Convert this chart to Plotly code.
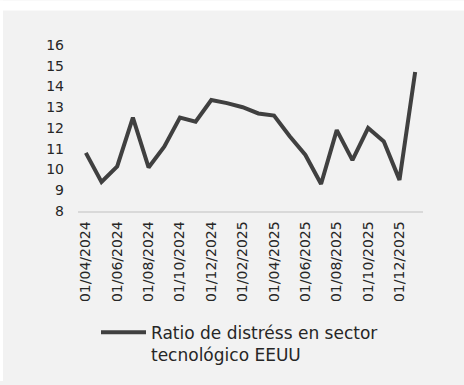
import plotly.graph_objects as go

# Monthly distress ratio, tech sector (US)
fechas = [
    "01/04/2024", "01/05/2024", "01/06/2024", "01/07/2024", "01/08/2024", "01/09/2024",
    "01/10/2024", "01/11/2024", "01/12/2024", "01/01/2025", "01/02/2025", "01/03/2025",
    "01/04/2025", "01/05/2025", "01/06/2025", "01/07/2025", "01/08/2025", "01/09/2025",
    "01/10/2025", "01/11/2025", "01/12/2025", "01/01/2026",
]
ratio = [
    10.8, 9.4, 10.15, 12.5, 10.1, 11.1,
    12.5, 12.3, 13.35, 13.2, 13.0, 12.7,
    12.6, 11.6, 10.7, 9.3, 11.9, 10.45,
    12.0, 11.35, 9.5, 14.7,
]
etiquetas_x = fechas[::2][:11]
ticks_y = [8, 9, 10, 11, 12, 13, 14, 15, 16]

W, H = 464, 385
ML, MR, MT, MB = 78, 41, 45, 172
pw, ph = W - ML - MR, H - MT - MB

def px_x(p):
    return (p - ML) / pw

def px_y(p):
    return (H - MB - p) / ph

fig = go.Figure()
fig.add_trace(go.Scatter(
    x=fechas, y=ratio, mode="lines",
    name="Ratio de distréss en sector<br>tecnológico EEUU",
    line=dict(color="#404040", width=4),
))

panel = "#f2f2f2"
fig.update_layout(
    width=W, height=H,
    margin=dict(l=ML, r=MR, t=MT, b=MB),
    paper_bgcolor=panel, plot_bgcolor=panel,
    font=dict(family="DejaVu Sans, Open Sans, sans-serif", size=14, color="#262626"),
    showlegend=True,
    legend=dict(
        x=px_x(96), y=px_y(318), xanchor="left", yanchor="top",
        bgcolor="rgba(0,0,0,0)", valign="top", itemwidth=45,
        font=dict(size=17, color="#262626"),
    ),
    xaxis=dict(
        type="category", tickmode="array", tickvals=etiquetas_x, ticktext=etiquetas_x,
        range=[-0.5, len(fechas) - 0.5],
        tickangle=-90, showgrid=False, showline=True, linecolor="#d9d9d9", linewidth=1.5,
        ticks="", zeroline=False, ticklabelstandoff=3,
    ),
    yaxis=dict(
        range=[8, 16], tickvals=ticks_y, showgrid=False, zeroline=False,
        showline=False, ticks="", ticklabelstandoff=13,
    ),
    shapes=[
        dict(type="rect", xref="paper", yref="paper",
             x0=px_x(0), x1=px_x(W), y0=px_y(10), y1=px_y(0),
             fillcolor="white", line=dict(width=0), layer="below"),
        dict(type="rect", xref="paper", yref="paper",
             x0=px_x(0), x1=px_x(3), y0=px_y(H), y1=px_y(0),
             fillcolor="white", line=dict(width=0), layer="below"),
    ],
)

fig.write_html("out.html")
